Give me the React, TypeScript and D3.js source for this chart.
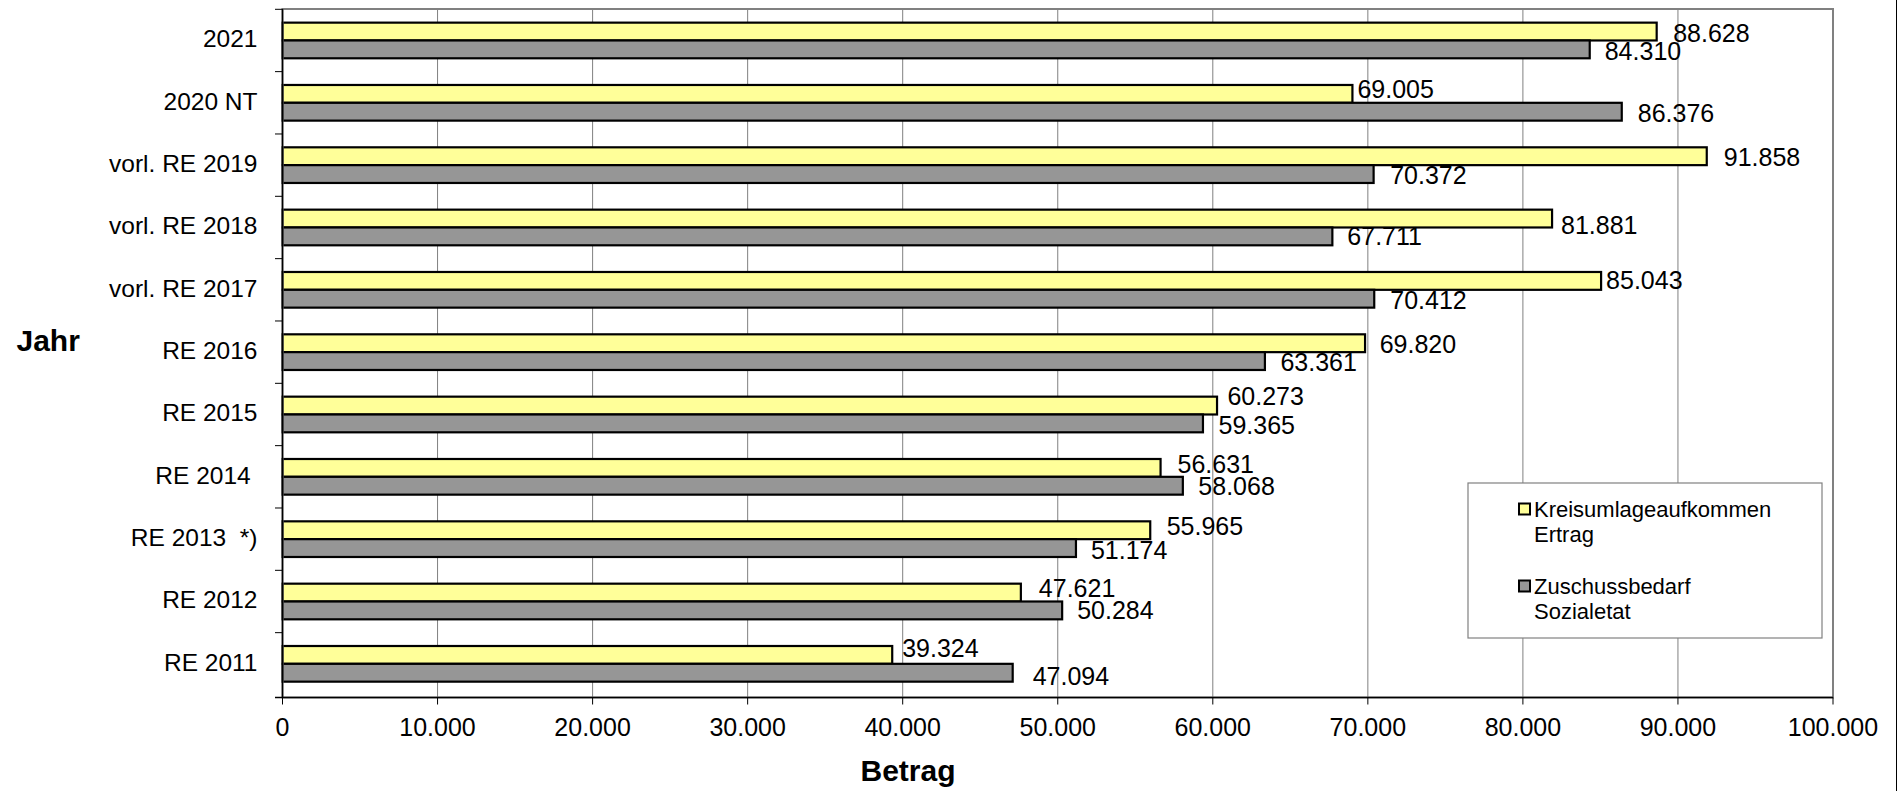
import React, { useEffect } from "react";
import * as d3 from "d3";

// Budget years, top to bottom
const categories = [
  "2021",
  "2020 NT",
  "vorl. RE 2019",
  "vorl. RE 2018",
  "vorl. RE 2017",
  "RE 2016",
  "RE 2015",
  "RE 2014 ",
  "RE 2013  *)",
  "RE 2012",
  "RE 2011",
];

// Kreisumlageaufkommen Ertrag
const ertrag = [88628, 69005, 91858, 81881, 85043, 69820, 60273, 56631, 55965, 47621, 39324];
// Zuschussbedarf Sozialetat
const sozialetat = [84310, 86376, 70372, 67711, 70412, 63361, 59365, 58068, 51174, 50284, 47094];

const seriesNames = [
  ["Kreisumlageaufkommen", "Ertrag"],
  ["Zuschussbedarf", "Sozialetat"],
];

const xTicks = [0, 10000, 20000, 30000, 40000, 50000, 60000, 70000, 80000, 90000, 100000];

// Hand-placed data label offsets: [dx from bar end, dy from bar centre]
const ertragLabelShift = [
  [16.5, 1], [5, -5], [17, 1], [9, 6.5], [5, -1.3], [14.6, 0.5],
  [10.4, -10], [17, -3.7], [16.4, -4], [18, -4.5], [10, -7],
];
const sozialLabelShift = [
  [15, 2], [16, 1.3], [16.6, 1], [15, -0.7], [16, 1.3], [15.5, 1],
  [15.6, 2], [15.5, 0], [15, 1.6], [15, 0], [20, 3],
];

const W = 1901;
const H = 791;
const M = { left: 282.5, right: 1833, top: 9, bottom: 697.5 };
const BAND_TOP = 9.3;
const BAND_BOTTOM = 695;
const FONT = "'Liberation Sans', Arial, Helvetica, sans-serif";
const COLORS = ["#FFFF99", "#969696"];

const de = d3.formatLocale({ decimal: ",", thousands: ".", grouping: [3], currency: ["", " €"] });
const fmt = de.format(",.0f");

export default function App() {
  useEffect(() => {
    document.body.style.margin = "0";
    document.body.style.overflow = "hidden";
  }, []);

  const x = d3.scaleLinear().domain([0, 100000]).range([M.left, M.right]);
  const y = d3
    .scaleBand<string>()
    .domain(categories)
    .range([BAND_TOP, BAND_BOTTOM])
    .paddingInner(0.428)
    .paddingOuter(0.214);
  const step = y.step();
  const inner = d3.scaleBand<number>().domain([0, 1]).range([0, y.bandwidth()]);

  const series = [ertrag, sozialetat];
  const shifts = [ertragLabelShift, sozialLabelShift];

  return (
    <svg
      width={W}
      height={H}
      style={{ position: "absolute", left: 0, top: 0, background: "#fff" }}
      fontFamily={FONT}
    >
      <rect x={0} y={0} width={W} height={H} fill="#fff" />

      {/* vertical gridlines */}
      {xTicks.slice(1, -1).map((t) => (
        <line key={t} x1={x(t)} x2={x(t)} y1={M.top} y2={M.bottom} stroke="#808080" strokeWidth={1} />
      ))}

      {/* bars */}
      {series.map((vals, si) =>
        categories.map((c, i) => (
          <rect
            key={`${si}-${i}`}
            x={x(0)}
            y={(y(c) as number) + (inner(si) as number)}
            width={x(vals[i]) - x(0)}
            height={inner.bandwidth()}
            fill={COLORS[si]}
            stroke="#000"
            strokeWidth={2.2}
          />
        ))
      )}

      {/* plot frame */}
      <rect
        x={M.left}
        y={M.top}
        width={M.right - M.left}
        height={M.bottom - M.top}
        fill="none"
        stroke="#808080"
        strokeWidth={2}
      />
      <line x1={M.left} x2={M.left} y1={M.top} y2={M.bottom} stroke="#000" strokeWidth={1.5} />
      <line x1={M.left - 7.5} x2={M.right} y1={M.bottom} y2={M.bottom} stroke="#000" strokeWidth={1.5} />

      {/* category axis ticks and labels */}
      {d3.range(categories.length).map((k) => (
        <line
          key={`yt${k}`}
          x1={M.left - 7.5}
          x2={M.left}
          y1={BAND_TOP + k * step}
          y2={BAND_TOP + k * step}
          stroke="#000"
          strokeWidth={1}
        />
      ))}
      {categories.map((c) => (
        <text
          key={`yl${c}`}
          x={257.5}
          y={(y(c) as number) + y.bandwidth() / 2 + 6.8}
          textAnchor="end"
          fontSize={24.5}
          fill="#000"
          xmlSpace="preserve"
          style={{ whiteSpace: "pre" }}
        >
          {c}
        </text>
      ))}

      {/* value axis ticks and labels */}
      {xTicks.map((t) => (
        <g key={`xt${t}`}>
          <line x1={x(t)} x2={x(t)} y1={M.bottom} y2={M.bottom + 7} stroke="#000" strokeWidth={1} />
          <text x={x(t)} y={736} textAnchor="middle" fontSize={25} fill="#000">
            {fmt(t)}
          </text>
        </g>
      ))}

      {/* data labels */}
      {series.map((vals, si) =>
        categories.map((c, i) => {
          const [dx, dy] = shifts[si][i];
          const cy = (y(c) as number) + (inner(si) as number) + inner.bandwidth() / 2;
          return (
            <text
              key={`dl${si}-${i}`}
              x={x(vals[i]) + dx}
              y={cy + dy + 9}
              fontSize={25}
              fill="#000"
            >
              {fmt(vals[i])}
            </text>
          );
        })
      )}

      {/* axis titles */}
      <text x={16.5} y={351} fontSize={30} fontWeight="bold" fill="#000">
        Jahr
      </text>
      <text x={908} y={781} fontSize={30} fontWeight="bold" textAnchor="middle" fill="#000">
        Betrag
      </text>

      {/* legend */}
      <rect x={1468} y={483} width={354} height={155} fill="#fff" stroke="#808080" strokeWidth={1.2} />
      {seriesNames.map((lines, si) => {
        const base = 516.5 + si * 77;
        return (
          <g key={`lg${si}`}>
            <rect x={1519} y={base - 13} width={11} height={11} fill={COLORS[si]} stroke="#000" strokeWidth={2} />
            {lines.map((ln, li) => (
              <text key={li} x={1534} y={base + li * 25} fontSize={22} fill="#000">
                {ln}
              </text>
            ))}
          </g>
        );
      })}

      {/* outer chart edge */}
      <line x1={1896.5} x2={1896.5} y1={0} y2={H} stroke="#000" strokeWidth={1} />
    </svg>
  );
}
